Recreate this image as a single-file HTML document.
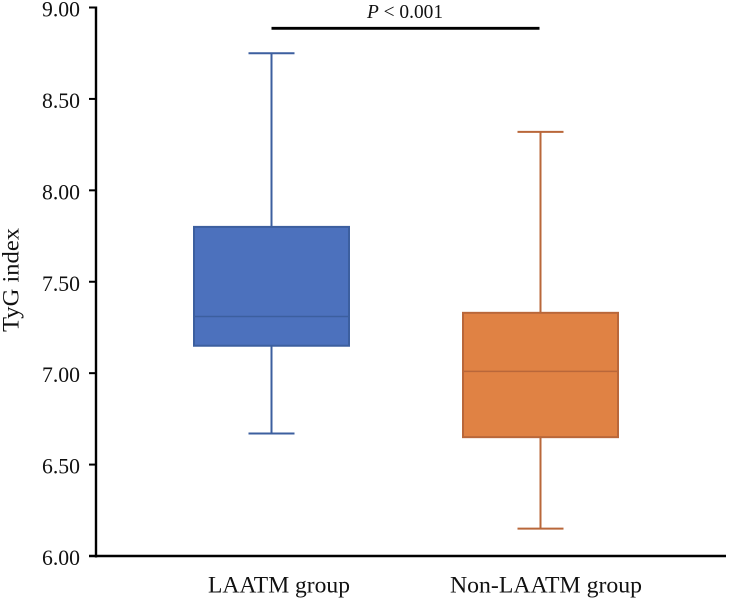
<!DOCTYPE html>
<html lang="en">
<head>
<meta charset="utf-8">
<title>TyG index box plot</title>
<style>
html,body{margin:0;padding:0;background:#fff;width:729px;height:602px;overflow:hidden}
svg{display:block;font-family:"Liberation Serif",serif;fill:#111}
</style>
</head>
<body>
<svg id="chart" width="729" height="602" viewBox="0 0 729 602" xmlns="http://www.w3.org/2000/svg">
<text x="18.5" y="280" text-anchor="middle" font-size="23" textLength="104" lengthAdjust="spacingAndGlyphs" transform="rotate(-90 18.5 280)">TyG index</text>
<text x="405" y="18" text-anchor="middle" font-size="20" textLength="76" lengthAdjust="spacingAndGlyphs"><tspan font-style="italic">P</tspan> &lt; 0.001</text>
</svg>
<script>
const categories = ['LAATM group', 'Non-LAATM group'];
const whiskerHigh = [8.75, 8.32];
const quartile3 = [7.80, 7.33];
const medians = [7.31, 7.01];
const quartile1 = [7.15, 6.65];
const whiskerLow = [6.67, 6.15];
const tickValues = [6, 6.5, 7, 7.5, 8, 8.5, 9];
const tickLabels = ['6.00', '6.50', '7.00', '7.50', '8.00', '8.50', '9.00'];
const fills = ['#4c71bd', '#e08244'];
const strokes = ['#3c5f9f', '#b9673a'];

const svg = document.getElementById('chart');
const NS = 'http://www.w3.org/2000/svg';
const yScale = v => 556 - (v - 6) * (556 - 7.5) / 3;
const xScale = i => 271.5 + i * 269;
const boxHalf = 77.5;
const capHalf = 23;

function make(tag, attrs) {
  const el = document.createElementNS(NS, tag);
  Object.keys(attrs).forEach(k => el.setAttribute(k, attrs[k]));
  svg.appendChild(el);
  return el;
}

// y axis
const yAxis = make('line', {x1: 96, x2: 96, y1: yScale(9) - 1, y2: yScale(6) + 1.5, stroke: '#000', 'stroke-width': 2.4});



// x axis
const xAxis = make('line', {x1: 89, x2: 726, y1: yScale(6), y2: yScale(6), stroke: '#000', 'stroke-width': 2.4});



tickValues.forEach((v, i) => {
  const t = make('line', {x1: 89, x2: 96, y1: yScale(v), y2: yScale(v), stroke: '#000', 'stroke-width': 2});
  
  
  const l = make('text', {x: 80, y: yScale(v) + 9, 'text-anchor': 'end', 'font-size': 22, textLength: 38, lengthAdjust: 'spacingAndGlyphs'});
  
  
  l.textContent = tickLabels[i];
});

categories.forEach((c, i) => {
  const cx = xScale(i);
  const stroke = strokes[i];
  const wu = make('line', {x1: cx, x2: cx, y1: yScale(whiskerHigh[i]), y2: yScale(quartile3[i]), stroke: stroke, 'stroke-width': 2});
  
  
  const wl = make('line', {x1: cx, x2: cx, y1: yScale(quartile1[i]), y2: yScale(whiskerLow[i]), stroke: stroke, 'stroke-width': 2});
  
  
  const cu = make('line', {x1: cx - capHalf, x2: cx + capHalf, y1: yScale(whiskerHigh[i]), y2: yScale(whiskerHigh[i]), stroke: stroke, 'stroke-width': 2});
  
  
  const cl = make('line', {x1: cx - capHalf, x2: cx + capHalf, y1: yScale(whiskerLow[i]), y2: yScale(whiskerLow[i]), stroke: stroke, 'stroke-width': 2});
  
  
  const box = make('rect', {x: cx - boxHalf, width: boxHalf * 2, y: yScale(quartile3[i]), height: yScale(quartile1[i]) - yScale(quartile3[i]), fill: fills[i], stroke: stroke, 'stroke-width': 2});
  
  
  const med = make('line', {x1: cx - boxHalf, x2: cx + boxHalf, y1: yScale(medians[i]), y2: yScale(medians[i]), stroke: stroke, 'stroke-width': 1.5});
  
  
  const lab = make('text', {x: cx + (i ? 5.5 : 7.5), y: 592.5, 'text-anchor': 'middle', 'font-size': 23, textLength: i ? 192 : 142, lengthAdjust: 'spacingAndGlyphs'});
  
  
  lab.textContent = c;
});

// significance bracket spans the two group centres
const sig = make('line', {x1: xScale(0), x2: xScale(1) - 1, y1: 28.3, y2: 28.3, stroke: '#000', 'stroke-width': 2.8});


</script>
</body>
</html>
